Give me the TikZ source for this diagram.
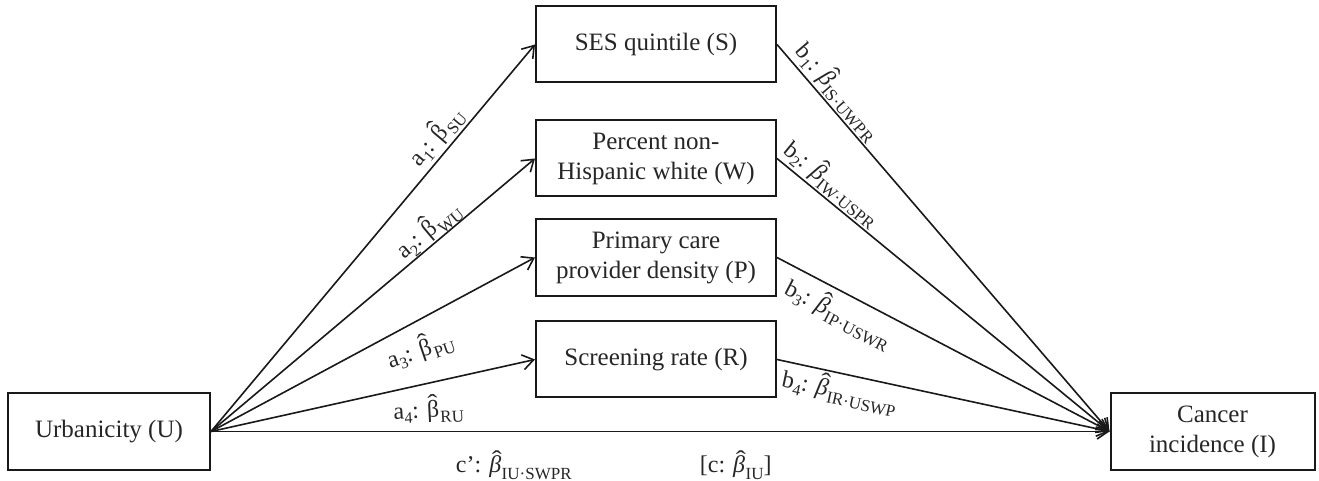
\documentclass[tikz,border=0pt]{standalone}
\usepackage{graphicx}
\usepackage{fontspec}
\setmainfont{Liberation Serif}
\usetikzlibrary{arrows.meta,calc}
\newcommand{\hb}[2]{\ooalign{#1\cr\hidewidth\kern#2\raisebox{0.24em}{\scalebox{1.25}[1]{ˆ}}\hidewidth\cr}}
\newcommand{\subtx}[1]{\raisebox{-0.26em}{\fontsize{17}{17}\selectfont #1}}
\newcommand{\bup}[1]{\hb{β}{0em}\kern0.04em\subtx{#1}}
\newcommand{\bit}[1]{\hb{\itshape β}{0.14em}\kern0.02em\subtx{#1}}
\newcommand{\sbn}[1]{\raisebox{-0.22em}{\fontsize{16}{16}\selectfont #1}}
\begin{document}
\begin{tikzpicture}[x=1pt,y=1pt,
  box/.style={draw=black!90, line width=2pt, minimum width=240pt, minimum height=76pt,
    align=center, inner sep=0pt, text=black!85, font=\fontsize{25}{30}\selectfont},
  conn/.style={draw=black!90, line width=1.6pt, -{Straight Barb[length=11pt,width=15pt,line width=1.6pt]}},
  lab/.style={inner sep=0pt, text=black!85, font=\fontsize{24}{28}\selectfont}]
\useasboundingbox (0,0) rectangle (1319,481);
\node[box, minimum width=202pt, minimum height=77pt] (U) at (109,49.5) {Urbanicity (U)};
\node[box] (S) at (656,436.5) {SES quintile (S)};
\node[box] (W) at (656,322.5) {Percent non-\\Hispanic white (W)};
\node[box, minimum height=77pt] (P) at (656,223.5) {Primary care\\provider density (P)};
\node[box] (R) at (656,121.5) {Screening rate (R)};
\node[box, minimum width=204pt, minimum height=77pt] (I) at (1212.5,49.5) {Cancer\\incidence (I)};

\draw[conn] (U.east) -- (S.west);
\draw[conn] (U.east) -- (W.west);
\draw[conn] (U.east) -- (P.west);
\draw[conn] (U.east) -- (R.west);
\draw[conn] (U.east) -- (I.west);
\draw[conn] (S.east) -- (I.west);
\draw[conn] (W.east) -- (I.west);
\draw[conn] (P.east) -- (I.west);
\draw[conn] (R.east) -- (I.west);

\node[lab, rotate=49.9] (la1) at ($(U.east)!0.734!(S.west)!14.6pt!90:(S.west)$) {a\sbn{1}: \bup{SU}};
\node[lab, rotate=39.9] (la2) at ($(U.east)!0.698!(W.west)!11.8pt!90:(W.west)$) {a\sbn{2}: \bup{WU}};
\node[lab, rotate=19] (la3) at ($(U.east)!0.605!(P.west)!29.3pt!-90:(P.west)$) {a\sbn{3}: \bup{PU}};
\node[lab, rotate=3] (la4) at ($(U.east)!0.653!(R.west)!28.3pt!-90:(R.west)$) {a\sbn{4}: \bup{RU}};

\node[lab, rotate=-49.2] (lb1) at ($(S.east)!0.148!(I.west)!13.7pt!90:(I.west)$) {b\sbn{1}: \bit{IS·UWPR}};
\node[lab, rotate=-39.2] (lb2) at ($(W.east)!0.136!(I.west)!13.7pt!90:(I.west)$) {b\sbn{2}: \bit{IW·USPR}};
\node[lab, rotate=-27.5] (lb3) at ($(P.east)!0.215!(I.west)!23.7pt!-90:(I.west)$) {b\sbn{3}: \bit{IP·USWR}};
\node[lab, rotate=-12.2] (lb4) at ($(R.east)!0.2!(I.west)!20.5pt!-90:(I.west)$) {b\sbn{4}: \bit{IR·USWP}};

\node[lab, anchor=base] (lc1) at ($(U.east)!0.337!(I.west)+(0,-41.5)$) {c’: \bit{IU·SWPR}};
\node[lab, anchor=base] (lc2) at ($(U.east)!0.584!(I.west)+(0,-41.5)$) {[c: \bit{IU}]};
\end{tikzpicture}
\end{document}
